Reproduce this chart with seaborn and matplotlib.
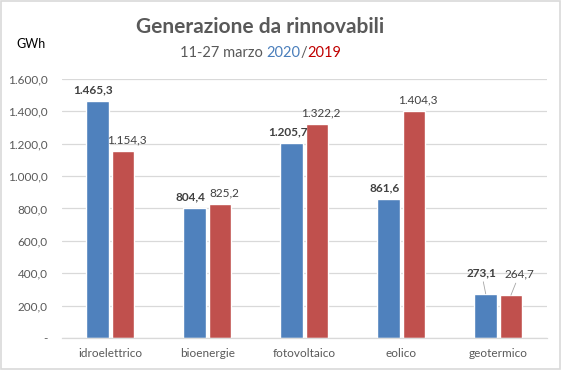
import matplotlib
matplotlib.use("Agg")
import matplotlib.pyplot as plt
import seaborn as sns
import pandas as pd
from matplotlib.patches import Rectangle

categorie = ["idroelettrico", "bioenergie", "fotovoltaico", "eolico", "geotermico"]
valori_2020 = [1465.3, 804.4, 1205.7, 861.6, 273.1]
valori_2019 = [1154.3, 825.2, 1322.2, 1404.3, 264.7]
anni = ["2020", "2019"]
yticks = [0, 200, 400, 600, 800, 1000, 1200, 1400, 1600]

BLUE = "#4F81BD"
RED = "#C0504D"
GRAY = "#595959"

def it_fmt(v):
    s = f"{v:,.1f}"
    return s.replace(",", "X").replace(".", ",").replace("X", ".")

df = pd.DataFrame({
    "categoria": categorie * 2,
    "valore": valori_2020 + valori_2019,
    "anno": [anni[0]] * len(categorie) + [anni[1]] * len(categorie),
})

sns.set_theme(style="white")
plt.rcParams["font.family"] = ["Lato", "DejaVu Sans"]

fig = plt.figure(figsize=(5.62, 3.70), dpi=100)
ax = fig.add_axes([0.110, 0.0865, 0.863, 0.700])

sns.barplot(data=df, x="categoria", y="valore", hue="anno", order=categorie,
            hue_order=anni, palette=[BLUE, RED], width=0.52, gap=0.1,
            saturation=1, ax=ax, legend=False, errorbar=None)

ax.set_ylim(0, 1600)
ax.set_xlim(-0.5, len(categorie) - 0.5)
ax.set_yticks(yticks)
ax.set_yticklabels(["-"] + [it_fmt(v) for v in yticks[1:]])
ax.yaxis.grid(True, color="#D9D9D9", linewidth=0.9)
ax.set_axisbelow(True)
for s in ["top", "right", "left"]:
    ax.spines[s].set_visible(False)
ax.spines["bottom"].set_color("#D9D9D9")
ax.spines["bottom"].set_linewidth(0.9)
ax.tick_params(axis="both", length=0, colors=GRAY, labelsize=8.5)
ax.tick_params(axis="y", pad=10)
ax.tick_params(axis="x", pad=7)
ax.set_xlabel("")
ax.set_ylabel("")

# data labels
c2020, c2019 = ax.containers[0], ax.containers[1]
for i, (b1, b2) in enumerate(zip(c2020, c2019)):
    v1, v2 = valori_2020[i], valori_2019[i]
    x1 = b1.get_x() + b1.get_width() / 2
    x2 = b2.get_x() + b2.get_width() / 2
    if categorie[i] == "geotermico":
        ax.annotate(it_fmt(v1), xy=(x1, v1), xytext=(-3, 11), textcoords="offset points",
                    ha="center", va="bottom", fontsize=8.5, fontweight="bold", color="#404040",
                    arrowprops=dict(arrowstyle="-", color="#A6A6A6", lw=0.6,
                                    shrinkA=0, shrinkB=0))
        ax.annotate(it_fmt(v2), xy=(x2, v2), xytext=(6, 11), textcoords="offset points",
                    ha="center", va="bottom", fontsize=8.5, color="#404040",
                    arrowprops=dict(arrowstyle="-", color="#A6A6A6", lw=0.6,
                                    shrinkA=0, shrinkB=0))
    else:
        ax.annotate(it_fmt(v1), xy=(x1, v1), xytext=(-3, 4), textcoords="offset points",
                    ha="center", va="bottom", fontsize=8.5, fontweight="bold", color="#404040")
        ax.annotate(it_fmt(v2), xy=(x2, v2), xytext=(3, 4), textcoords="offset points",
                    ha="center", va="bottom", fontsize=8.5, color="#404040")

# title
fig.text(0.463, 0.911, "Generazione da rinnovabili", ha="center", va="baseline",
         fontsize=15, fontweight="bold", color=GRAY)

# multicolored subtitle
parts = [("11-27 marzo ", GRAY), ("2020", "#4A7EBB"), ("/", GRAY), ("2019", "#C00000")]
texts = [fig.text(0, 0.846, s, ha="left", va="baseline", fontsize=10.5, color=col)
         for s, col in parts]
fig.canvas.draw()
r = fig.canvas.get_renderer()
widths = [t.get_window_extent(r).width for t in texts]
total = sum(widths)
x = 0.463 * fig.bbox.width - total / 2
for t, w in zip(texts, widths):
    t.set_x(x / fig.bbox.width)
    x += w

fig.text(0.03, 0.870, "GWh", ha="left", va="baseline", fontsize=9, color="#000000")

# chart border
fig.patches.append(Rectangle((0.002, 0.003), 0.995, 0.994, transform=fig.transFigure,
                             fill=False, edgecolor="#D9D9D9", linewidth=1.2))

fig.savefig("out.png", dpi=100)
